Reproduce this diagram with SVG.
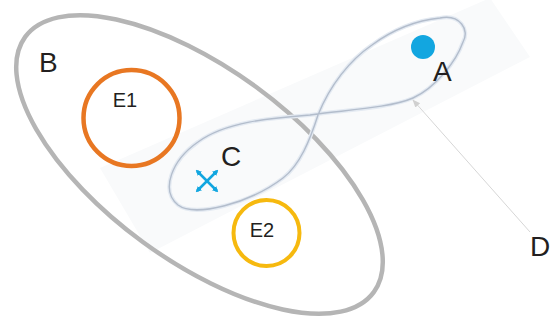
<svg xmlns="http://www.w3.org/2000/svg" width="557" height="320" viewBox="0 0 557 320">
<defs>
<style>
.lbl{font-family:"Liberation Sans",Arial,Helvetica,sans-serif;fill:#231f20}
.big{font-size:28px}
.small{font-size:20px}
.ring{fill:none}
</style>
<marker id="tipx" viewBox="0 0 10 10" refX="7" refY="5" markerWidth="2.4" markerHeight="2.4" orient="auto-start-reverse" markerUnits="strokeWidth">
<path d="M0 0 L10 5 L0 10 Z" fill="#12a6e0"/>
</marker>
<marker id="tipd" viewBox="0 0 10 10" refX="9" refY="5" markerWidth="8" markerHeight="8" orient="auto" markerUnits="userSpaceOnUse">
<path d="M0 1 L10 5 L0 9 Z" fill="#d0d0d0"/>
</marker>
</defs>
<rect width="557" height="320" fill="#ffffff"/>
<polygon id="band" points="100,168 490,-2 530,57 150,253" fill="#f9fafb"/>
<g id="B">
<ellipse class="ring" cx="199.5" cy="164.5" rx="216" ry="96" transform="rotate(36.2 199.5 164.5)" stroke="#b5b5b5" stroke-width="4.5"/>
<text class="lbl big" x="39" y="72">B</text>
</g>
<g id="E1">
<circle class="ring" cx="131.5" cy="118" r="48" stroke="#e87722" stroke-width="4.5"/>
<text class="lbl small" x="125" y="107" text-anchor="middle">E1</text>
</g>
<g id="E2">
<circle class="ring" cx="266.5" cy="233" r="33" stroke="#f6b90f" stroke-width="4"/>
<text class="lbl small" x="262" y="237" text-anchor="middle">E2</text>
</g>
<g id="loop">
<path d="M440 18 C460 14 470 30 463 42 C456 62 435 88 413 98 C390 108 345 110 310 115 C270 118 225 122 198 142 C172 160 160 190 178 205 C195 218 250 203 283 178 C300 165 310 140 318 115 C330 85 350 60 372 45 C395 28 420 20 440 18 Z" fill="none" stroke="#e4eaf2" stroke-width="4"/>
<path d="M440 18 C460 14 470 30 463 42 C456 62 435 88 413 98 C390 108 345 110 310 115 C270 118 225 122 198 142 C172 160 160 190 178 205 C195 218 250 203 283 178 C300 165 310 140 318 115 C330 85 350 60 372 45 C395 28 420 20 440 18 Z" fill="none" stroke="#b3bdcc" stroke-width="1.4"/>
</g>
<g id="A">
<circle cx="423" cy="47" r="12" fill="#12a6e0"/>
<text class="lbl big" x="433" y="81">A</text>
</g>
<g id="C">
<line x1="197" y1="171" x2="217" y2="191" stroke="#12a6e0" stroke-width="2.5" marker-start="url(#tipx)" marker-end="url(#tipx)"/>
<line x1="217" y1="171" x2="197" y2="191" stroke="#12a6e0" stroke-width="2.5" marker-start="url(#tipx)" marker-end="url(#tipx)"/>
<text class="lbl big" x="221" y="166">C</text>
</g>
<g id="D">
<text class="lbl big" x="530" y="256">D</text>
</g>
<g id="connectors">
<line x1="530" y1="232" x2="413" y2="100" stroke="#d6d6d6" stroke-width="1" marker-end="url(#tipd)"/>
</g>
</svg>
